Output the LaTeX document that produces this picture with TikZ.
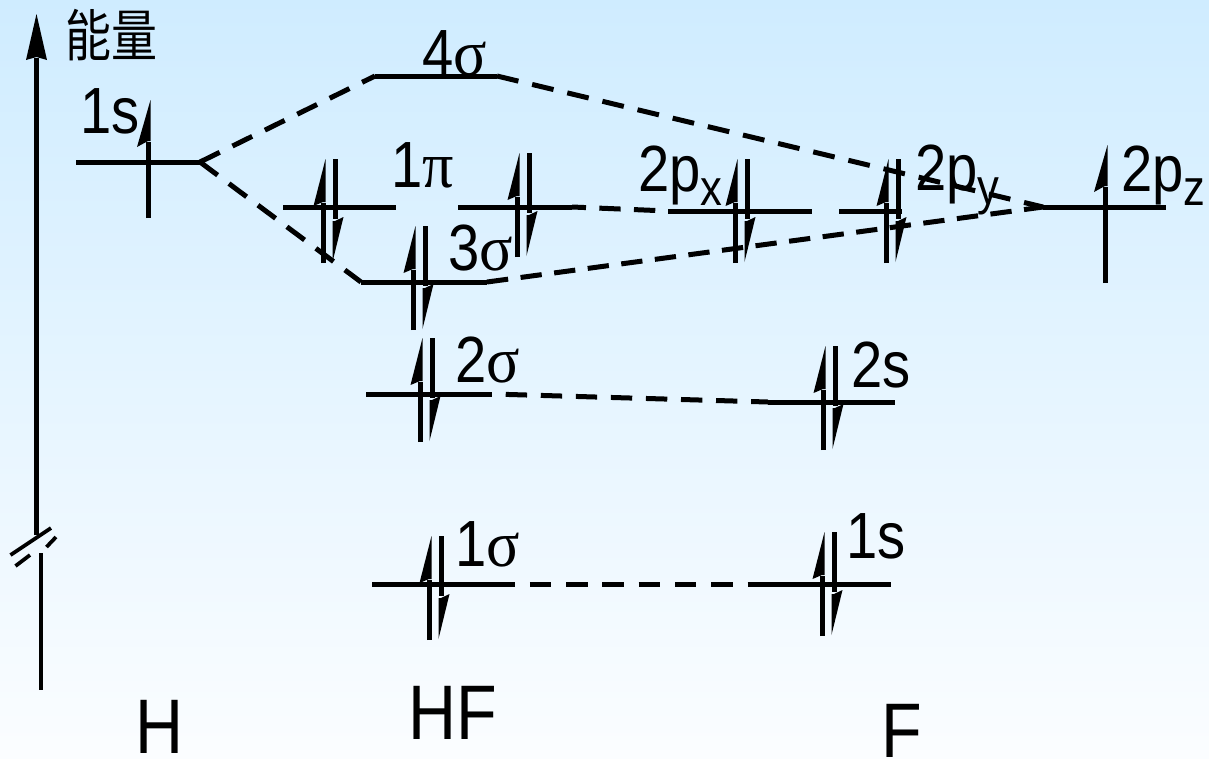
\documentclass[tikz,border=0pt]{standalone}
\usepackage{fontspec}
\setmainfont{Liberation Sans}
\newfontfamily\lab[FakeStretch=0.86]{Liberation Sans}
\newfontfamily\sig[FakeStretch=0.95]{Liberation Serif}
\newfontfamily\cjk{Noto Sans CJK SC}
\newcommand{\lblfont}{\fontsize{49}{49}\selectfont\lab}
\newcommand{\bigfont}{\fontsize{58}{58}\selectfont\lab}
\newcommand{\sgm}{{\sig σ}}
\newcommand{\pii}{{\sig π}}
\newcommand{\sbs}[1]{\raisebox{-10.5pt}{\fontsize{38}{38}\selectfont #1}}
\tikzset{
  x=0.75pt,y=-0.75pt,
  lev/.style={line width=3.75pt},
  link/.style={line width=3.75pt,dash pattern=on 16.5pt off 10.6pt},
  linkA/.style={line width=3.75pt,dash pattern=on 16pt off 9.4pt},
  linkB/.style={line width=3.75pt,dash pattern=on 16pt off 10pt,dash phase=5.5pt},
  linkC/.style={line width=3.75pt,dash pattern=on 16pt off 10.3pt,dash phase=16pt},
  linkD/.style={line width=3.75pt,dash pattern=on 16pt off 11.2pt,dash phase=16pt},
  spin/.style={line width=3.75pt},
  lbl/.style={anchor=base west,inner sep=0pt,font=\lblfont},
  bigl/.style={anchor=base west,inner sep=0pt,font=\bigfont}
}
% level: name, x1, x2, y
\newcommand{\levl}[4]{%
  \coordinate (#1-l) at (#2,#4);
  \coordinate (#1-r) at (#3,#4);
  \draw[lev] (#1-l) -- (#1-r);
}
% electron pair: x of up line, y centre
\newcommand{\epair}[2]{%
  \draw[spin] (#1,#2+52) -- (#1,#2-8);
  \fill (#1+2.5,#2-52) -- (#1-9.5,#2-5) -- (#1,#2-9) -- (#1+2.5,#2-9) -- cycle;
  \draw[spin] (#1+12,#2-52) -- (#1+12,#2+8);
  \fill (#1+20.5,#2+6) -- (#1+9.5,#2+51) -- (#1+9.5,#2+10) -- (#1+12,#2+10) -- cycle;
}
% single electron: x, level y, bottom offset
\newcommand{\esingle}[3]{%
  \draw[spin] (#1,#2+#3) -- (#1,#2-20);
  \fill (#1+2.5,#2-62) -- (#1-11,#2-15) -- (#1,#2-21) -- (#1+2.5,#2-21) -- cycle;
}
\begin{document}
\begin{tikzpicture}
\useasboundingbox (0,0) rectangle (1209,758);
\shade[top color={rgb,255:red,207;green,236;blue,255},bottom color={rgb,255:red,251;green,253;blue,255}] (0,0) rectangle (1209,758);

% energy axis
\coordinate (axB) at (36,535);
\coordinate (axT) at (36,58);
\draw[line width=3.75pt] (axB) -- (axT);
\fill (36.5,14) -- (26,60) -- (36.5,57) -- (47,60) -- cycle;
\coordinate (ax2T) at (40.5,553);
\coordinate (ax2B) at (40.5,690);
\draw[line width=3pt] (ax2T) -- (ax2B);
\coordinate (bkA) at (10.5,555);
\coordinate (bkB) at (51,528);
\draw[line width=2.8pt] (bkA) -- (bkB);
\coordinate (bkC) at (15.5,566);
\coordinate (bkD) at (30,555);
\coordinate (bkE) at (46.5,547);
\coordinate (bkF) at (56,537);
\draw[line width=2.8pt] (bkC) -- (bkD);
\draw[line width=2.8pt] (bkE) -- (bkF);

% levels
\levl{Hs}{76}{200}{162}
\levl{sA}{375}{497}{76}
\levl{piL}{283}{396}{207}
\levl{piR}{458}{572}{207}
\levl{sB}{361}{487}{282}
\levl{sC}{366}{492}{394}
\levl{sD}{372}{515}{584}
\levl{px}{668}{812}{211}
\levl{py}{839}{902}{211}
\levl{pz}{1043}{1166}{207}
\levl{Fs}{768}{895}{402}
\levl{Fa}{750}{891}{584}

% correlation lines
\draw[link] (Hs-r) -- (sA-l);
\draw[link] (Hs-r) -- (sB-l);
\draw[link] (sA-r) -- (pz-l);
\draw[linkA] (sB-r) -- (pz-l);
\draw[linkB] (piR-r) -- (px-l);
\draw[linkC] (sC-r) -- (Fs-l);
\draw[linkD] (sD-r) -- (Fa-l);

% electrons
\esingle{148}{162}{56}
\esingle{1105}{207}{76}
\epair{323}{211}
\epair{517}{205}
\epair{413}{278}
\epair{420}{390}
\epair{429}{588}
\epair{735}{211}
\epair{886}{211}
\epair{823}{398}
\epair{822}{584}

% labels
\node[anchor=base west,inner sep=0pt,font=\fontsize{34.5}{34.5}\selectfont\cjk] (tE) at (65,56) {\scalebox{1}[1.22]{能量}};
\node[lbl] (tHs) at (80,133) {1s};
\node[lbl] (t4) at (422,75) {4\sgm};
\node[lbl] (t1p) at (391,187) {1\pii};
\node[lbl] (t3) at (448,270) {3\sgm};
\node[lbl] (t2) at (455,382) {2\sgm};
\node[lbl] (t1) at (455,566) {1\sgm};
\node[lbl] (tpx) at (638,191) {2p\sbs{x}};
\node[lbl] (tpy) at (915,190) {2p\sbs{y}};
\node[lbl] (tpz) at (1121,191) {2p\sbs{z}};
\node[lbl] (tFs) at (851,387) {2s};
\node[lbl] (tFa) at (846,558) {1s};
\node[bigl] (tH) at (135,753) {H};
\node[bigl] (tHF) at (408,739) {HF};
\node[bigl] (tF) at (881,757) {F};
\end{tikzpicture}
\end{document}
